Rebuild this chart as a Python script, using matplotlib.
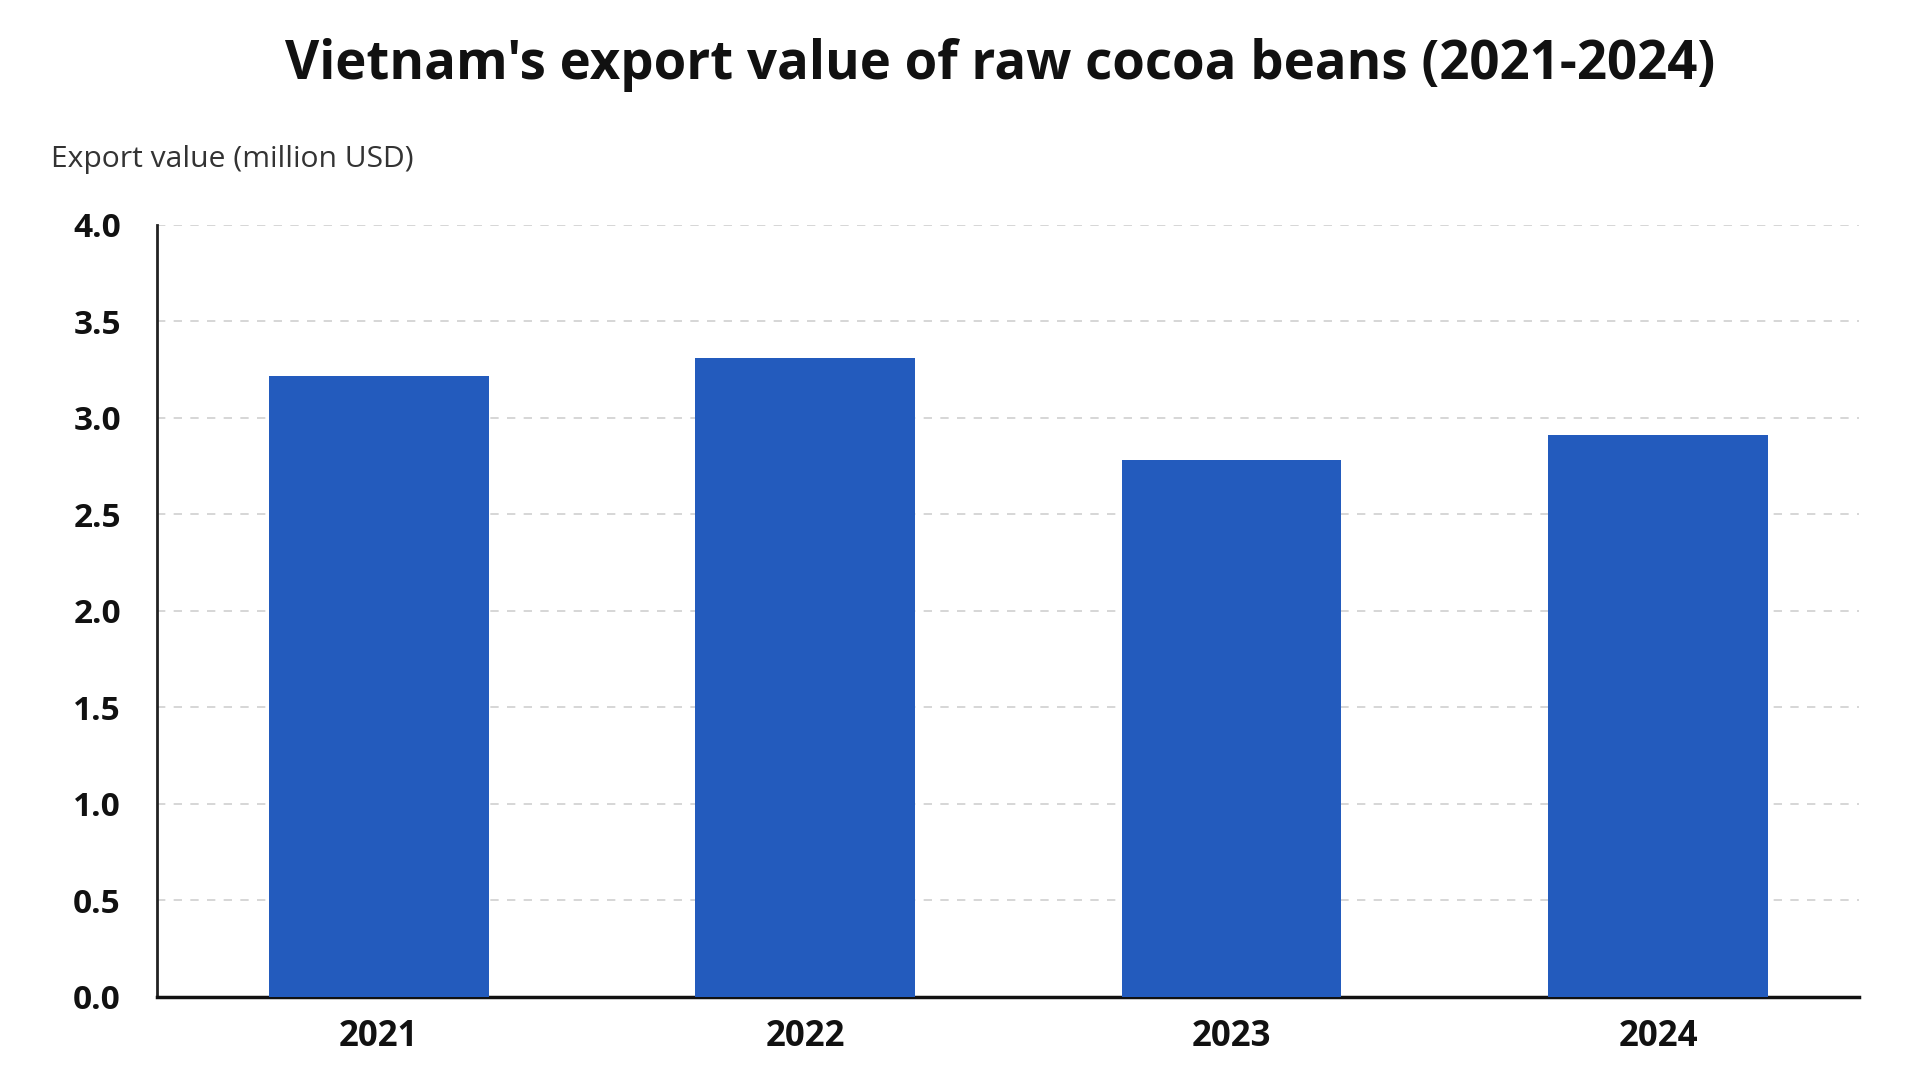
import matplotlib.pyplot as plt

years = ["2021", "2022", "2023", "2024"]
export_value = [3.22, 3.31, 2.78, 2.91]
y_ticks = [0.0, 0.5, 1.0, 1.5, 2.0, 2.5, 3.0, 3.5, 4.0]

plt.rcParams['font.family'] = ['Open Sans', 'DejaVu Sans']

fig = plt.figure(figsize=(19.2, 10.8), dpi=100)
ax = fig.add_axes([0.0818, 0.0769, 0.968 - 0.0818, 0.7917 - 0.0769])

x = list(range(len(years)))
ax.bar(x, export_value, width=0.515, color="#235BBD", zorder=3)

ax.set_xlim(-0.52, 3.47)
ax.set_ylim(0, 4.0)
ax.set_yticks(y_ticks)
ax.set_yticklabels([f"{v:.1f}" for v in y_ticks], fontsize=24, fontweight="bold", color="#111111")
ax.set_xticks(x)
ax.set_xticklabels(years, fontsize=25, fontweight="bold", color="#111111")
ax.tick_params(axis="y", length=0, pad=26)
ax.tick_params(axis="x", length=0, pad=16)

ax.grid(axis="y", linestyle=(0, (5, 5)), color="#d0d0d0", linewidth=1.2, zorder=0)
for s in ["top", "right"]:
    ax.spines[s].set_visible(False)
ax.spines["left"].set_linewidth(2)
ax.spines["bottom"].set_linewidth(2.5)
ax.spines["left"].set_color("#222222")
ax.spines["bottom"].set_color("#111111")

fig.text(0.521, 0.94, "Vietnam's export value of raw cocoa beans (2021-2024)",
         ha="center", va="center", fontsize=38, fontweight="bold", color="#111111")
fig.text(0.0265, 0.852, "Export value (million USD)", ha="left", va="center",
         fontsize=21.6, color="#333333")

fig.savefig("out.png", dpi=100, facecolor="white")
